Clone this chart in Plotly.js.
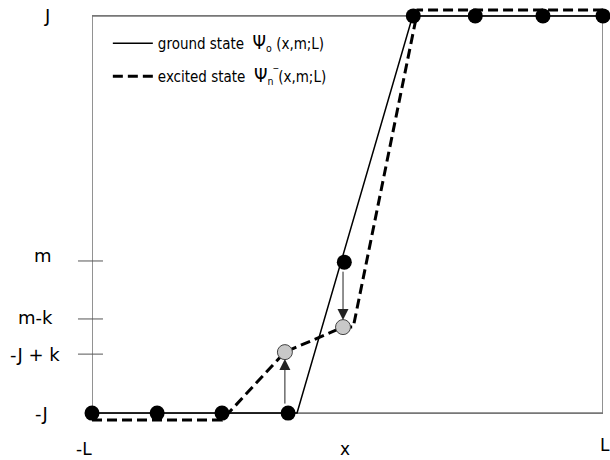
<!DOCTYPE html>
<html>
<head>
<meta charset="utf-8">
<script src="https://cdn.plot.ly/plotly-3.0.1.min.js"></script>
<style>html,body{margin:0;padding:0;background:#fff;}#chart{width:610px;height:460px;}</style>
</head>
<body>
<div id="chart"></div>
<script>
// ---- data (x in site units from -L..L mapped to 0..8, y from -J..J mapped to -1..1) ----
const frameX = [0, 8];          // -L .. L
const frameY = [-1, 1];         // -J .. J
const siteX = [0, 1.02, 2.035, 3.07, 3.95, 5.03, 6.0, 7.06, 8];
const siteY = [-1, -1, -1, -1, -0.24, 1, 1, 1, 1];
const movedX = [3.02, 3.93];
const movedY = [-0.693, -0.567];
const groundX = [0, 3.21, 5.02, 8];
const groundY = [-1, -1, 1, 1];
const excitedX = [0, 2.035, 3.02, 3.93, 4.09, 5.10, 8];
const excitedY = [-1.035, -1.035, -0.693, -0.567, -0.567, 1.03, 1.03];
const yTickVals = [1, -0.234, -0.526, -0.703, -1];
const yTickText = ['J', 'm', 'm-k', '-J + k', '-J'];
const yTickMarked = [false, true, true, true, false];
const xTickText = ['-L', 'L'];
const arrowFrom = [3, 4];   // index in site arrays
const arrowTo = [0, 1];     // index in moved arrays

// ---- styles ----
const labelFont = {family: 'DejaVu Sans', size: 18, color: '#000'};
const bottomFont = {family: 'DejaVu Sans', size: 17, color: '#000'};
const labelCenters = [-0.088, -0.096, -0.1115, -0.1115, -0.0998];
const labelShiftY = [0, 5, 1, 0, 0];
const paperBottom = -35 / 421;

const traces = [
  {x: groundX, y: groundY, mode: 'lines', name: 'ground state  <span style="font-size:19px">Ψ</span><sub>o</sub> (x,m;L)',
   line: {color: '#000', width: 1.5}, legend: 'legend'},
  {x: excitedX, y: excitedY, mode: 'lines', name: 'excited state  <span style="font-size:19px">Ψ</span><sub>n</sub><sup>‾</sup>(x,m;L)',
   line: {color: '#000', width: 3, dash: '10px,5px'}, legend: 'legend2'},
  {x: siteX, y: siteY, mode: 'markers', showlegend: false, cliponaxis: false,
   marker: {color: '#000', size: 15, line: {width: 0}}},
  {x: movedX, y: movedY, mode: 'markers', showlegend: false, cliponaxis: false,
   marker: {color: '#c8c8c8', size: 15, line: {color: '#444', width: 1}}}
];

const shapes = [{type: 'rect', xref: 'x', yref: 'y', x0: frameX[0], x1: frameX[1], y0: frameY[0], y1: frameY[1],
  line: {color: '#777', width: 1.6}, layer: 'below'}];
yTickVals.forEach((v, i) => {
  if (yTickMarked[i]) shapes.push({type: 'line', xref: 'paper', yref: 'y', x0: -0.0274, x1: 0.0215, y0: v, y1: v,
    line: {color: '#555', width: 1}});
});

const annotations = [];
yTickVals.forEach((v, i) => annotations.push({xref: 'paper', yref: 'y', x: labelCenters[i], y: v, yshift: labelShiftY[i],
  text: yTickText[i], showarrow: false, xanchor: 'center', yanchor: 'middle', font: labelFont}));
annotations.push({xref: 'x', yref: 'paper', x: frameX[0], y: paperBottom, xshift: -8, text: xTickText[0], showarrow: false,
  xanchor: 'center', yanchor: 'bottom', borderpad: 0, font: bottomFont});
annotations.push({xref: 'x', yref: 'paper', x: frameX[1], y: -0.0475, xshift: 2, text: xTickText[1], showarrow: false,
  xanchor: 'center', yanchor: 'middle', borderpad: 0, font: bottomFont});
annotations.push({xref: 'paper', yref: 'paper', x: 0.495, y: paperBottom, text: 'x', showarrow: false,
  xanchor: 'center', yanchor: 'bottom', borderpad: 0, font: bottomFont});
arrowFrom.forEach((s, i) => {
  const t = arrowTo[i];
  annotations.push({xref: 'x', yref: 'y', axref: 'x', ayref: 'y', x: movedX[t], y: movedY[t], ax: movedX[t], ay: siteY[s],
    text: '', showarrow: true, arrowhead: 2, arrowsize: 2.2, arrowwidth: 1, arrowcolor: '#222', standoff: 7, startstandoff: 8});
});

const legendStyle = {xanchor: 'left', yanchor: 'top', bgcolor: 'rgba(0,0,0,0)', borderwidth: 0, itemwidth: 40,
  font: {family: 'DejaVu Sans Condensed', size: 15, color: '#000'}};

const layout = {
  width: 610, height: 460,
  margin: {l: 92, r: 7, t: 4, b: 35},
  paper_bgcolor: '#fff', plot_bgcolor: '#fff',
  showlegend: true,
  legend: Object.assign({x: 0.031, y: 0.9454}, legendStyle),
  legend2: Object.assign({x: 0.031, y: 0.867}, legendStyle),
  xaxis: {range: [frameX[0], frameX[1]], showgrid: false, zeroline: false, showline: false, showticklabels: false, ticks: ''},
  yaxis: {range: [-1.06, 1.06], showgrid: false, zeroline: false, showline: false, showticklabels: false, ticks: ''},
  shapes: shapes,
  annotations: annotations
};

Plotly.newPlot('chart', traces, layout, {displayModeBar: false, staticPlot: true});
</script>
</body>
</html>
